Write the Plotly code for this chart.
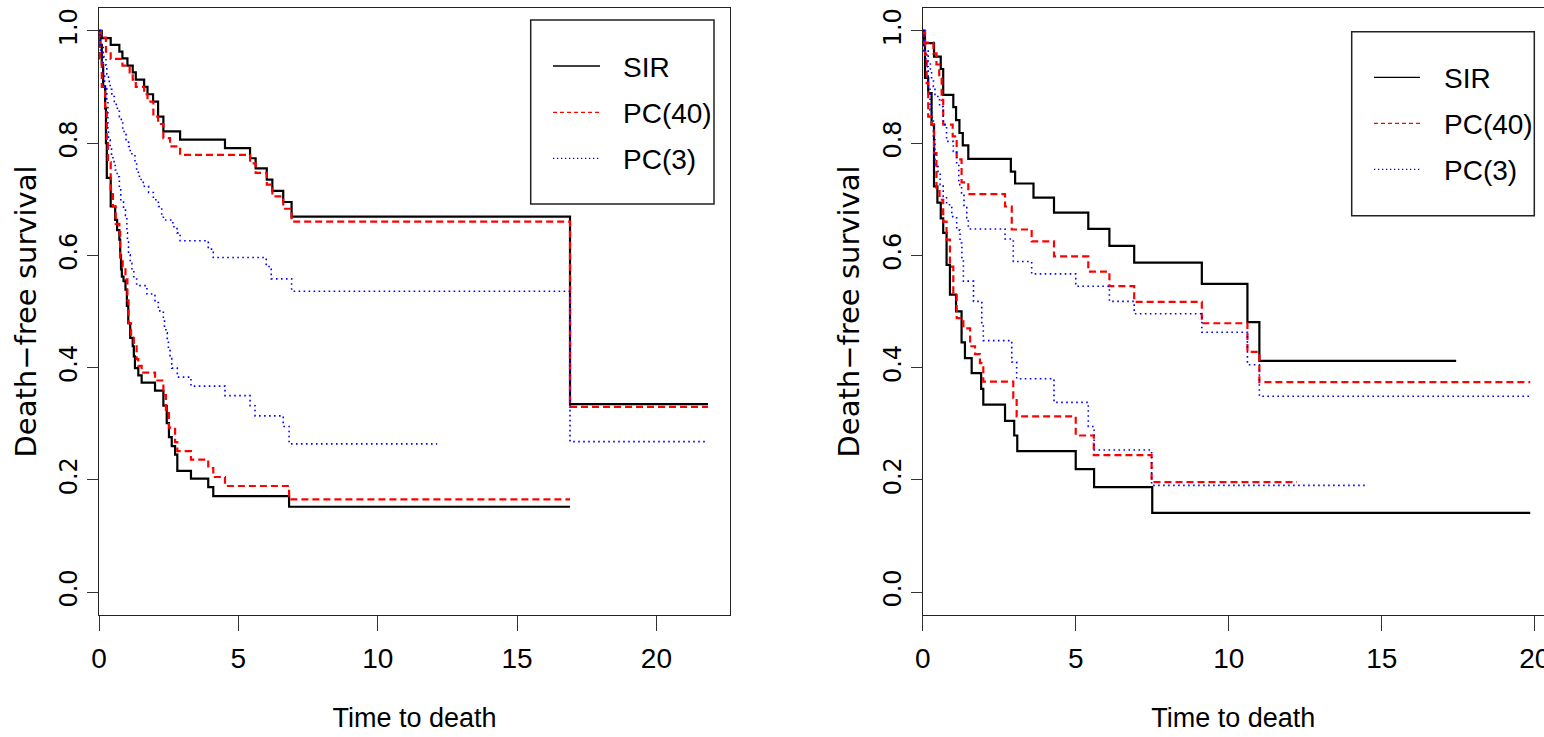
import plotly.graph_objects as go

# ---------------- data ----------------
methods = ["SIR", "PC(40)", "PC(3)"]
x_ticks = [0, 5, 10, 15, 20]
y_ticks = [0.0, 0.2, 0.4, 0.6, 0.8, 1.0]
y_ticktext = ["0.0", "0.2", "0.4", "0.6", "0.8", "1.0"]

# Left panel, low-risk group (upper curves)
L_SIR_lo_t = [0, 0.10, 0.42, 0.73, 0.84, 1.02, 1.21, 1.32, 1.62, 1.74, 1.94, 2.12, 2.31, 2.91, 4.52, 5.42, 5.62, 6.02, 6.22, 6.61, 6.91, 16.9]
L_SIR_lo_s = [1.0, 0.987, 0.975, 0.963, 0.951, 0.938, 0.926, 0.913, 0.900, 0.887, 0.874, 0.847, 0.821, 0.806, 0.791, 0.773, 0.755, 0.735, 0.715, 0.695, 0.669, 0.335]
L_SIR_lo_end = 21.85
L_PC40_lo_t = [0, 0.076, 0.25, 0.42, 0.84, 1.10, 1.21, 1.32, 1.62, 1.74, 1.95, 2.12, 2.31, 2.55, 2.91, 5.42, 5.62, 6.02, 6.22, 6.61, 6.91, 16.9]
L_PC40_lo_s = [1.0, 0.988, 0.963, 0.950, 0.938, 0.926, 0.913, 0.900, 0.887, 0.874, 0.847, 0.834, 0.809, 0.794, 0.779, 0.764, 0.747, 0.726, 0.705, 0.683, 0.660, 0.330]
L_PC40_lo_end = 21.85
L_PC3_lo_t = [0, 0.05, 0.15, 0.25, 0.28, 0.34, 0.40, 0.46, 0.55, 0.62, 0.73, 0.80, 0.85, 0.90, 0.97, 1.06, 1.12, 1.29, 1.35, 1.45, 1.59, 1.78, 1.95, 2.13, 2.25, 2.31, 2.65, 2.80, 2.91, 3.92, 4.10, 6.00, 6.18, 6.91, 16.9]
L_PC3_lo_s = [1.0, 0.975, 0.954, 0.939, 0.923, 0.910, 0.896, 0.883, 0.874, 0.862, 0.847, 0.840, 0.824, 0.815, 0.806, 0.794, 0.781, 0.766, 0.748, 0.735, 0.723, 0.712, 0.699, 0.687, 0.672, 0.663, 0.651, 0.640, 0.626, 0.611, 0.596, 0.580, 0.558, 0.536, 0.268]
L_PC3_lo_end = 21.85

# Left panel, high-risk group (lower curves)
L_SIR_hi_t = [0, 0.05, 0.10, 0.15, 0.22, 0.25, 0.28, 0.42, 0.58, 0.65, 0.73, 0.76, 0.79, 0.82, 0.88, 0.95, 1.00, 1.05, 1.12, 1.21, 1.25, 1.29, 1.41, 1.53, 2.01, 2.31, 2.43, 2.51, 2.61, 2.73, 2.81, 3.30, 3.92, 4.10, 6.82]
L_SIR_hi_s = [1.0, 0.975, 0.94, 0.901, 0.862, 0.80, 0.738, 0.687, 0.663, 0.645, 0.628, 0.60, 0.575, 0.562, 0.554, 0.539, 0.51, 0.479, 0.453, 0.438, 0.42, 0.399, 0.386, 0.373, 0.359, 0.332, 0.301, 0.276, 0.260, 0.245, 0.216, 0.202, 0.187, 0.171, 0.152]
L_SIR_hi_end = 16.9
L_PC40_hi_t = [0, 0.03, 0.10, 0.22, 0.28, 0.32, 0.42, 0.50, 0.60, 0.73, 0.76, 0.85, 0.95, 1.02, 1.06, 1.15, 1.25, 1.35, 1.41, 1.53, 2.01, 2.31, 2.40, 2.51, 2.73, 2.81, 3.30, 3.92, 4.10, 4.52, 6.82]
L_PC40_hi_s = [1.0, 0.951, 0.900, 0.864, 0.80, 0.766, 0.717, 0.687, 0.656, 0.642, 0.593, 0.580, 0.557, 0.52, 0.479, 0.453, 0.438, 0.415, 0.403, 0.391, 0.377, 0.351, 0.322, 0.293, 0.267, 0.251, 0.236, 0.221, 0.205, 0.189, 0.165]
L_PC40_hi_end = 16.9
L_PC3_hi_t = [0, 0.05, 0.15, 0.20, 0.28, 0.32, 0.34, 0.40, 0.45, 0.50, 0.58, 0.65, 0.73, 0.78, 0.88, 0.95, 1.00, 1.02, 1.06, 1.12, 1.18, 1.25, 1.35, 1.72, 2.01, 2.13, 2.31, 2.35, 2.40, 2.45, 2.49, 2.55, 2.61, 2.81, 3.30, 4.52, 5.42, 5.60, 6.61, 6.82]
L_PC3_hi_s = [1.0, 0.966, 0.924, 0.901, 0.877, 0.821, 0.806, 0.794, 0.776, 0.767, 0.752, 0.740, 0.723, 0.699, 0.684, 0.671, 0.640, 0.628, 0.601, 0.586, 0.574, 0.560, 0.546, 0.531, 0.516, 0.501, 0.486, 0.47, 0.462, 0.447, 0.432, 0.416, 0.399, 0.383, 0.367, 0.350, 0.332, 0.314, 0.295, 0.264]
L_PC3_hi_end = 12.13

# Right panel, low-risk group (upper curves)
R_SIR_lo_t = [0, 0.075, 0.37, 0.59, 0.67, 1.0, 1.09, 1.20, 1.31, 1.49, 2.88, 3.02, 3.62, 4.29, 5.41, 6.10, 6.91, 9.12, 10.61, 11.0]
R_SIR_lo_s = [1.0, 0.978, 0.954, 0.932, 0.886, 0.864, 0.841, 0.818, 0.796, 0.772, 0.749, 0.728, 0.703, 0.676, 0.647, 0.617, 0.587, 0.549, 0.481, 0.412]
R_SIR_lo_end = 17.43
R_PC40_lo_t = [0, 0.075, 0.35, 0.45, 0.54, 0.62, 0.67, 0.98, 1.11, 1.27, 1.49, 2.69, 2.91, 3.56, 4.29, 5.41, 6.10, 6.91, 9.12, 10.61, 11.0]
R_PC40_lo_s = [1.0, 0.979, 0.960, 0.94, 0.916, 0.877, 0.833, 0.812, 0.771, 0.730, 0.709, 0.687, 0.646, 0.625, 0.598, 0.571, 0.545, 0.517, 0.479, 0.428, 0.374]
R_PC40_lo_end = 19.85
R_PC3_lo_t = [0, 0.04, 0.18, 0.25, 0.29, 0.35, 0.40, 0.55, 0.67, 0.78, 1.00, 1.11, 1.18, 1.27, 1.35, 1.44, 1.49, 2.69, 2.96, 3.56, 5.00, 6.10, 6.91, 9.12, 10.61, 11.0]
R_PC3_lo_s = [1.0, 0.966, 0.945, 0.930, 0.913, 0.901, 0.883, 0.865, 0.833, 0.803, 0.785, 0.76, 0.726, 0.711, 0.687, 0.667, 0.647, 0.629, 0.589, 0.567, 0.545, 0.518, 0.496, 0.463, 0.405, 0.349]
R_PC3_lo_end = 19.85

# Right panel, high-risk group (lower curves)
R_SIR_hi_t = [0, 0.04, 0.075, 0.18, 0.29, 0.37, 0.48, 0.59, 0.67, 0.78, 0.89, 1.09, 1.27, 1.38, 1.60, 1.91, 1.98, 2.69, 2.99, 3.09, 5.00, 5.60, 7.50]
R_SIR_hi_s = [1.0, 0.975, 0.916, 0.889, 0.833, 0.723, 0.694, 0.666, 0.640, 0.583, 0.53, 0.500, 0.445, 0.417, 0.390, 0.362, 0.334, 0.305, 0.279, 0.251, 0.219, 0.187, 0.141]
R_SIR_hi_end = 19.85
R_PC40_hi_t = [0, 0.03, 0.08, 0.13, 0.18, 0.29, 0.37, 0.45, 0.55, 0.67, 0.78, 0.89, 1.0, 1.11, 1.33, 1.55, 1.71, 1.87, 1.98, 2.96, 3.07, 5.00, 5.59, 7.48]
R_PC40_hi_s = [1.0, 0.978, 0.957, 0.907, 0.847, 0.833, 0.782, 0.720, 0.699, 0.660, 0.628, 0.580, 0.533, 0.488, 0.470, 0.438, 0.424, 0.408, 0.375, 0.346, 0.313, 0.279, 0.244, 0.196]
R_PC40_hi_end = 12.23
R_PC3_hi_t = [0, 0.04, 0.10, 0.18, 0.24, 0.30, 0.35, 0.40, 0.50, 0.57, 0.67, 0.78, 0.95, 1.11, 1.22, 1.28, 1.33, 1.66, 1.93, 1.98, 2.91, 3.07, 4.29, 5.41, 5.60, 7.48]
R_PC3_hi_s = [1.0, 0.964, 0.936, 0.901, 0.859, 0.841, 0.806, 0.758, 0.746, 0.726, 0.705, 0.690, 0.669, 0.645, 0.622, 0.592, 0.554, 0.518, 0.48, 0.448, 0.41, 0.380, 0.338, 0.295, 0.253, 0.190]
R_PC3_hi_end = 14.45

# ---------------- styling ----------------
W, H = 1544, 737
COLORS = {"SIR": "black", "PC(40)": "#FF0000", "PC(3)": "#0000FF"}
DASH = {"SIR": "solid", "PC(40)": "7px,4px", "PC(3)": "1.6px,3.4px"}
WIDTH = {"SIR": 2.2, "PC(40)": 2.2, "PC(3)": 1.6}
HFONT = "Liberation Sans, Arial, sans-serif"
VFONT = "DejaVu Sans, Liberation Sans, Arial, sans-serif"

fig = go.Figure()


def add_curve(t, s, end, method, xa, ya):
    fig.add_trace(go.Scatter(
        x=list(t) + [end], y=list(s) + [s[-1]],
        mode="lines", line_shape="hv",
        line=dict(color=COLORS[method], width=WIDTH[method], dash=DASH[method]),
        name=method, showlegend=False, xaxis=xa, yaxis=ya, hoverinfo="skip"))


panels = {
    ("x", "y"): [
        (L_SIR_lo_t, L_SIR_lo_s, L_SIR_lo_end, "SIR"),
        (L_SIR_hi_t, L_SIR_hi_s, L_SIR_hi_end, "SIR"),
        (L_PC40_lo_t, L_PC40_lo_s, L_PC40_lo_end, "PC(40)"),
        (L_PC40_hi_t, L_PC40_hi_s, L_PC40_hi_end, "PC(40)"),
        (L_PC3_lo_t, L_PC3_lo_s, L_PC3_lo_end, "PC(3)"),
        (L_PC3_hi_t, L_PC3_hi_s, L_PC3_hi_end, "PC(3)"),
    ],
    ("x2", "y2"): [
        (R_SIR_lo_t, R_SIR_lo_s, R_SIR_lo_end, "SIR"),
        (R_SIR_hi_t, R_SIR_hi_s, R_SIR_hi_end, "SIR"),
        (R_PC40_lo_t, R_PC40_lo_s, R_PC40_lo_end, "PC(40)"),
        (R_PC40_hi_t, R_PC40_hi_s, R_PC40_hi_end, "PC(40)"),
        (R_PC3_lo_t, R_PC3_lo_s, R_PC3_lo_end, "PC(3)"),
        (R_PC3_hi_t, R_PC3_hi_s, R_PC3_hi_end, "PC(3)"),
    ],
}
for (xa, ya), curves in panels.items():
    for t, s, end, m in curves:
        add_curve(t, s, end, m, xa, ya)

ydom = [(H - 614.5) / H, (H - 8.4) / H]


def xaxis_cfg(dom, rng, anchor):
    return dict(domain=dom, range=rng, anchor=anchor, tickmode="array", tickvals=x_ticks,
                ticks="outside", ticklen=15, tickwidth=1, tickcolor="#333",
                ticklabelstandoff=4, ticklabeloverflow="allow",
                showline=True, linecolor="#222", linewidth=1.3,
                mirror=True, showgrid=False, zeroline=False,
                tickfont=dict(family=HFONT, size=28, color="black"),
                title=dict(text="Time to death", font=dict(family=HFONT, size=27, color="black"),
                           standoff=34),
                automargin=False)


def yaxis_cfg(anchor, mirror):
    return dict(domain=ydom, range=[-0.04, 1.04], tickmode="array", tickvals=y_ticks,
                ticktext=y_ticktext, tickangle=-90, ticks="outside", ticklen=11, tickwidth=1,
                tickcolor="#333", showline=True, linecolor="#222", linewidth=1.3, mirror=mirror,
                showgrid=False, zeroline=False, anchor=anchor,
                tickfont=dict(family=VFONT, size=24, color="black"),
                title=dict(text="Death\u2212free survival",
                           font=dict(family=VFONT, size=29, color="black"), standoff=10),
                automargin=False)


fig.update_layout(
    width=W, height=H, margin=dict(l=0, r=0, t=0, b=0),
    paper_bgcolor="white", plot_bgcolor="white", showlegend=False,
    xaxis=xaxis_cfg([99 / W, 730 / W], [0, 22.64], "y"),
    yaxis=yaxis_cfg("x", True),
    xaxis2=xaxis_cfg([922.7 / W, 1.0], [0, 20.30], "y2"),
    yaxis2=yaxis_cfg("x2", False),
)

# ---------------- legends (boxes with sample lines and text) ----------------
shapes, annos = [], []


def px(x):
    return x / W


def py(y):
    return 1 - y / H


def legend(x0, x1, y0, y1, lx0, lx1, rows, tx):
    shapes.append(dict(type="rect", xref="paper", yref="paper", x0=px(x0), x1=px(x1),
                       y0=py(y1), y1=py(y0), line=dict(color="#222", width=1.5),
                       fillcolor="white", layer="above"))
    for m, yy in zip(methods, rows):
        shapes.append(dict(type="line", xref="paper", yref="paper", x0=px(lx0), x1=px(lx1),
                           y0=py(yy), y1=py(yy),
                           line=dict(color=COLORS[m], width=1.3,
                                     dash={"SIR": "solid", "PC(40)": "4px,3px", "PC(3)": "1.3px,2.7px"}[m])))
        annos.append(dict(xref="paper", yref="paper", x=px(tx), y=py(yy + 1.5), text=m,
                          showarrow=False, xanchor="left", yanchor="middle",
                          font=dict(family=HFONT, size=28, color="black")))


legend(530.7, 714, 20, 204, 553, 600, [66, 112.3, 158.3], 621)
legend(1351.7, 1534.3, 31.7, 215.7, 1374, 1420, [77.3, 123.3, 169.3], 1442)

fig.update_layout(shapes=shapes, annotations=annos)
fig.write_html("out.html", config={"displayModeBar": False},
               post_script="document.body.style.margin='0px';document.body.style.overflow='hidden';")
